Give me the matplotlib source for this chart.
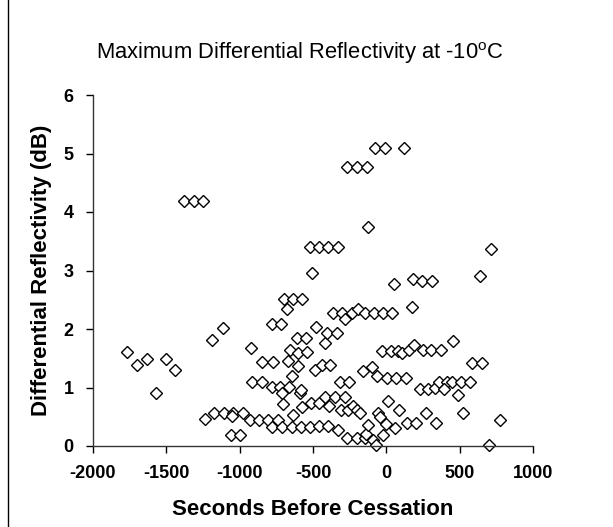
import numpy as np
import matplotlib
matplotlib.use('Agg')
from matplotlib import pyplot as plt
from matplotlib.patches import Rectangle

plt.rcParams['font.family'] = ['Liberation Sans', 'DejaVu Sans']

# Seconds before cessation vs. max ZDR (dB)
seconds = [
    -1766, -1702, -1634, -1570, -1502, -1441,
    -1379, -1313, -1248,
    -1238, -1186, -1111,
    -1175, -1107, -1043, -979, -1050,
    -1059, -995,
    -922,
    -932, -868, -805, -741,
    -918, -850,
    -850, -770,
    -781, -725, -661,
    -713, -702,
    -781, -720,
    -695, -634, -573,
    -679,
    -668, -600,
    -657, -600, -543,
    -645, -638, -588, -580,
    -611, -550,
    -577,
    -781, -713, -645, -581, -520, -459, -400, -330,
    -520, -461, -395, -329,
    -507, -479, -486,
    -515, -457,
    -440, -384,
    -418,
    -402, -338,
    -418, -350, -282,
    -390,
    -361, -300, -236, -191, -145, -84, -20, 41,
    -282,
    -266, -200, -134,
    -125,
    -75, -9, 123,
    -316, -254,
    -311, -259, -225, -198, -179,
    -270, -202, -145, -93, -70, -20, -138,
    -160, -100,
    -66, 2, 66, 134,
    -123, -55, -43, 9, 85, -2, 59,
    -31, 30, 82, 108, 155, 189, 247, 307, 375,
    55, 184, 246, 310, 175,
    452, 582, 650,
    230, 286, 332, 361, 412, 393, 446, 509, 570,
    491, 271, 521,
    139, 202, 337,
    777, 702, 712, 641,
]
zdr = [
    1.61, 1.38, 1.49, 0.90, 1.49, 1.30,
    4.18, 4.18, 4.18,
    0.46, 1.81, 2.01,
    0.57, 0.57, 0.57, 0.57, 0.52,
    0.18, 0.18,
    1.67,
    0.44, 0.44, 0.44, 0.44,
    1.10, 1.10,
    1.44, 1.44,
    1.01, 1.01, 1.01,
    0.91, 0.72,
    2.08, 2.08,
    2.51, 2.51, 2.51,
    2.34,
    1.45, 1.37,
    1.64, 1.59, 1.61,
    1.19, 0.53, 0.91, 0.95,
    1.84, 1.84,
    0.66,
    0.32, 0.32, 0.32, 0.32, 0.33, 0.35, 0.34, 0.27,
    3.41, 3.41, 3.41, 3.41,
    2.95, 2.04, 1.30,
    0.74, 0.74,
    1.38, 1.38,
    1.76,
    1.94, 1.94,
    0.84, 0.84, 0.84,
    0.68,
    2.27, 2.27, 2.27, 2.34, 2.27, 2.27, 2.27, 2.27,
    2.17,
    4.77, 4.77, 4.77,
    3.75,
    5.10, 5.10, 5.10,
    1.10, 1.10,
    0.61, 0.61, 0.68, 0.62, 0.57,
    0.13, 0.13, 0.13, 0.10, 0.01, 0.18, 0.21,
    1.28, 1.35,
    1.19, 1.17, 1.17, 1.17,
    0.36, 0.57, 0.50, 0.77, 0.61, 0.38, 0.30,
    1.63, 1.63, 1.63, 1.59, 1.64, 1.73, 1.64, 1.64, 1.64,
    2.77, 2.86, 2.82, 2.82, 2.37,
    1.80, 1.42, 1.42,
    0.97, 0.97, 1.00, 1.10, 1.10, 0.98, 1.10, 1.10, 1.10,
    0.87, 0.56, 0.57,
    0.39, 0.39, 0.39,
    0.45, 0.02, 3.37, 2.91,
]

x_ticks = [-2000, -1500, -1000, -500, 0, 500, 1000]
y_ticks = [0, 1, 2, 3, 4, 5, 6]

W, H = 613, 527
fig = plt.figure(figsize=(W / 100, H / 100), dpi=100)

# plot area in pixels: left 93, right 533, top 95, bottom 446
ax = fig.add_axes([93 / W, 1 - 446 / H, (533 - 93) / W, (446 - 95) / H])

ax.plot(seconds, zdr, linestyle='none', marker='D', markersize=6.2,
        markerfacecolor='white', markeredgecolor='black', markeredgewidth=1.0,
        clip_on=False)

ax.set_xlim(-2000, 1000)
ax.set_ylim(0, 6)
ax.set_xticks(x_ticks)
ax.set_yticks(y_ticks)
ax.set_xticklabels([str(t) for t in x_ticks], fontsize=13, fontweight='bold')
ax.set_yticklabels([str(t) for t in y_ticks], fontsize=13, fontweight='bold')
ax.tick_params(direction='out', length=5, width=1, color='black')
ax.tick_params(axis='x', pad=9)
ax.tick_params(axis='y', pad=9)

for side in ('top', 'right'):
    ax.spines[side].set_visible(False)
for side in ('left', 'bottom'):
    ax.spines[side].set_color('#333333')
    ax.spines[side].set_linewidth(1)

ax.set_xlabel('Seconds Before Cessation', fontsize=16, fontweight='bold', labelpad=12)
ax.set_ylabel('Differential Reflectivity (dB)', fontsize=16, fontweight='bold', labelpad=8)

fig.text(300 / W, 1 - 53 / H, r'Maximum Differential Reflectivity at -10$^{\mathregular{o}}$C',
         ha='center', va='center', fontsize=15.8)

# chart border (right and bottom edges fall outside the picture)
fig.patches.append(Rectangle((8 / W, -0.05), 1.1, 1.05 + (1 - 13 / H),
                             transform=fig.transFigure, fill=False,
                             edgecolor='black', linewidth=1))

fig.savefig('out.png', dpi=100)
